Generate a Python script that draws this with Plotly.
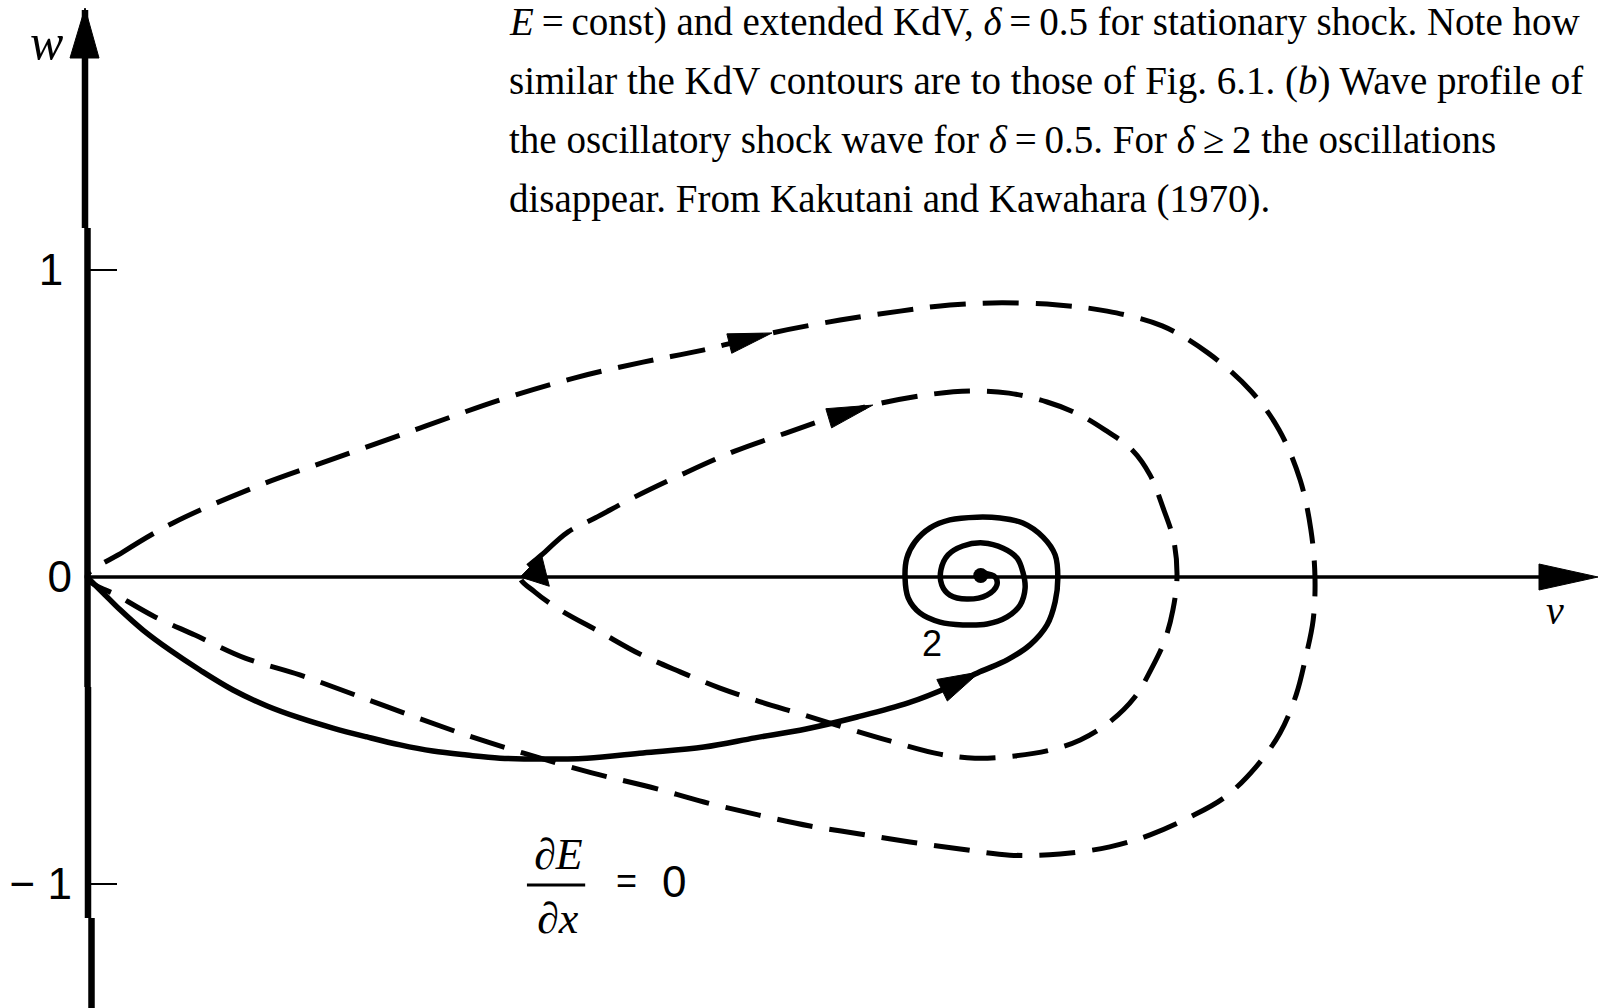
import math
import plotly.graph_objects as go

# ---------------- phase-plane data (v, w) ----------------
# Outer KdV contour (E = const), leaving and re-entering the saddle at the origin
outer_v = [0.000, 0.080, 0.192, 0.375, 0.556, 0.743, 0.922, 1.087, 1.241, 1.375,
           1.529, 1.681, 1.815, 1.926, 2.042, 2.167, 2.277, 2.400, 2.502, 2.598,
           2.661, 2.708, 2.732, 2.741, 2.737, 2.721, 2.699, 2.663, 2.609, 2.540,
           2.462, 2.373, 2.283, 2.172, 2.060, 1.949, 1.837, 1.725, 1.614, 1.498,
           1.377, 1.257, 1.127, 0.973, 0.859, 0.732, 0.598, 0.475, 0.353, 0.241,
           0.152, 0.074, 0.000]
outer_w = [0.000, 0.081, 0.176, 0.293, 0.388, 0.485, 0.577, 0.648, 0.700, 0.739,
           0.795, 0.837, 0.866, 0.886, 0.893, 0.886, 0.866, 0.818, 0.730, 0.606,
           0.479, 0.316, 0.153, 0.000, -0.140, -0.257, -0.384, -0.508, -0.619, -0.717,
           -0.782, -0.840, -0.879, -0.902, -0.906, -0.886, -0.863, -0.837, -0.811, -0.775,
           -0.733, -0.684, -0.638, -0.573, -0.521, -0.456, -0.384, -0.319, -0.264, -0.189,
           -0.130, -0.065, 0.000]

# Inner KdV contour, closing on itself at v ~ 1
inner_v = [0.967, 1.022, 1.074, 1.134, 1.223, 1.335, 1.446, 1.560, 1.658, 1.754,
           1.873, 1.971, 2.058, 2.143, 2.212, 2.272, 2.333, 2.373, 2.402, 2.426,
           2.433, 2.424, 2.406, 2.377, 2.339, 2.283, 2.217, 2.150, 2.071, 1.982,
           1.904, 1.792, 1.708, 1.592, 1.498, 1.413, 1.324, 1.234, 1.145, 1.056,
           1.000, 0.967]
inner_w = [0.000, 0.081, 0.147, 0.192, 0.261, 0.339, 0.410, 0.469, 0.518, 0.560,
           0.593, 0.606, 0.599, 0.570, 0.531, 0.479, 0.414, 0.332, 0.225, 0.117,
           0.000, -0.107, -0.205, -0.296, -0.391, -0.472, -0.531, -0.564, -0.583, -0.590,
           -0.577, -0.534, -0.498, -0.446, -0.404, -0.362, -0.309, -0.251, -0.179, -0.107,
           -0.049, 0.000]

# Extended KdV trajectory (delta = 0.5): from the saddle into the spiral focus
traj_v = [0.000, 0.036, 0.074, 0.125, 0.185, 0.252, 0.326, 0.402, 0.475, 0.549,
          0.625, 0.699, 0.772, 0.848, 0.922, 1.018, 1.116, 1.241, 1.377, 1.491,
          1.605, 1.719, 1.833, 1.924, 1.993, 2.054, 2.105, 2.143, 2.161, 2.167,
          2.161, 2.134, 2.089, 2.038, 1.987, 1.926, 1.882, 1.848, 1.830, 1.826,
          1.833, 1.859, 1.904, 1.955, 2.009, 2.054, 2.083, 2.094, 2.089, 2.076,
          2.045, 2.000, 1.955, 1.922, 1.906, 1.908, 1.926, 1.964, 2.009, 2.031,
          2.027, 2.000]
traj_w = [0.000, -0.052, -0.107, -0.173, -0.238, -0.303, -0.368, -0.420, -0.459, -0.492,
          -0.521, -0.547, -0.567, -0.580, -0.590, -0.593, -0.590, -0.573, -0.554, -0.524,
          -0.495, -0.456, -0.410, -0.358, -0.309, -0.270, -0.221, -0.156, -0.081, -0.003,
          0.072, 0.130, 0.176, 0.192, 0.195, 0.186, 0.160, 0.114, 0.062, -0.003,
          -0.068, -0.117, -0.147, -0.156, -0.153, -0.130, -0.091, -0.036, 0.016, 0.062,
          0.094, 0.111, 0.101, 0.072, 0.023, -0.026, -0.059, -0.072, -0.059, -0.026,
          0.000, 0.013]

focus_v = [1.995]
focus_w = [0.005]

# points along each curve carrying a direction arrow
outer_arrow_at = 10
inner_arrow_at = 9
traj_arrow_at = 24

w_tick_vals = [-1, 0, 1]
w_tick_text = ["\u2212 1", "0", "1\u2009"]

caption_lines = [
    "<i>E</i>\u2009=\u2009const) and extended KdV, <i>\u03b4</i>\u2009=\u20090.5 for stationary shock. Note how",
    "similar the KdV contours are to those of Fig. 6.1. (<i>b</i>) Wave profile of",
    "the oscillatory shock wave for <i>\u03b4</i>\u2009=\u20090.5. For <i>\u03b4</i>\u2009\u2265\u20092 the oscillations",
    "disappear. From Kakutani and Kawahara (1970).",
]

# ---------------- geometry ----------------
W_PX, H_PX = 1598, 1008
X0, Y0 = 87, 577          # pixel position of the origin
SV, SW = 448.0, 307.0     # pixels per unit of v and w

x_range = [-X0 / SV, (W_PX - X0) / SV]
y_range = [(Y0 - H_PX) / SW, Y0 / SW]


def px(x):
    return x / W_PX


def py(y):
    return 1 - y / H_PX


def arrow_head(v_tail, w_tail, v_tip, w_tip, length, half):
    """Filled arrow head (in data units) with its tip on (v_tip, w_tip),
    pointing away from (v_tail, w_tail); length/half width in pixels."""
    dx = (v_tip - v_tail) * SV
    dy = (w_tip - w_tail) * SW
    n = math.hypot(dx, dy)
    ux, uy = dx / n, dy / n
    bx, by = -ux * length, -uy * length
    pxs = [0.0, bx - uy * half, bx + uy * half, 0.0]
    pys = [0.0, by + ux * half, by - ux * half, 0.0]
    return ([v_tip + a / SV for a in pxs], [w_tip + b / SW for b in pys])


fig = go.Figure()

dash = "36px,17px"

fig.add_trace(go.Scatter(
    x=outer_v, y=outer_w, mode="lines",
    line=dict(color="black", width=5, dash=dash, shape="spline", smoothing=1.0),
    hoverinfo="skip", showlegend=False))

fig.add_trace(go.Scatter(
    x=inner_v, y=inner_w, mode="lines",
    line=dict(color="black", width=5, dash=dash, shape="spline", smoothing=1.0),
    hoverinfo="skip", showlegend=False))

fig.add_trace(go.Scatter(
    x=traj_v, y=traj_w, mode="lines",
    line=dict(color="black", width=5.5, shape="spline", smoothing=1.0),
    hoverinfo="skip", showlegend=False))

fig.add_trace(go.Scatter(
    x=focus_v, y=focus_w, mode="markers",
    marker=dict(symbol="circle", color="black", size=15),
    hoverinfo="skip", showlegend=False))

# direction arrows, oriented along the curves
heads = [
    arrow_head(outer_v[outer_arrow_at - 1], outer_w[outer_arrow_at - 1],
               outer_v[outer_arrow_at], outer_w[outer_arrow_at], 44, 10),
    arrow_head(inner_v[inner_arrow_at - 1], inner_w[inner_arrow_at - 1],
               inner_v[inner_arrow_at], inner_w[inner_arrow_at], 46, 10),
    arrow_head(traj_v[traj_arrow_at - 1], traj_w[traj_arrow_at - 1],
               traj_v[traj_arrow_at], traj_w[traj_arrow_at], 42, 12),
    # where the inner contour closes, the flow arrives from the right
    arrow_head((inner_v[1] + inner_v[-2]) / 2, (inner_w[1] + inner_w[-2]) / 2,
               inner_v[0], inner_w[0], 26, 16),
]
for hv, hw in heads:
    fig.add_trace(go.Scatter(
        x=hv, y=hw, mode="lines", fill="toself", fillcolor="black",
        line=dict(color="black", width=1),
        hoverinfo="skip", showlegend=False))

shapes = []
# vertical (w) axis, drawn in slightly offset pieces
for xc, ya, yb in [(85, 10, 228), (87.5, 228, 687), (88, 687, 918), (91.5, 918, 1008)]:
    shapes.append(dict(type="line", xref="paper", yref="paper",
                       x0=px(xc), x1=px(xc), y0=py(ya), y1=py(yb),
                       line=dict(color="black", width=6.5)))
# arrow head at the top of the w axis
shapes.append(dict(type="path", xref="paper", yref="paper",
                   path=f"M{px(85)},{py(8)} L{px(70)},{py(58)} L{px(99)},{py(58)} Z",
                   fillcolor="black", line=dict(color="black", width=1)))
# horizontal (v) axis and its arrow head
shapes.append(dict(type="line", xref="paper", yref="paper",
                   x0=px(87), x1=px(1545), y0=py(577), y1=py(577),
                   line=dict(color="black", width=3.5)))
shapes.append(dict(type="path", xref="paper", yref="paper",
                   path=f"M{px(1598)},{py(577)} L{px(1539)},{py(564)} L{px(1539)},{py(590)} Z",
                   fillcolor="black", line=dict(color="black", width=1)))
# fraction bar of dE/dx
shapes.append(dict(type="line", xref="x", yref="y",
                   x0=0.982, x1=1.112, y0=-1.003, y1=-1.003,
                   line=dict(color="black", width=3)))

serif = "Liberation Serif, Times New Roman, serif"
sans = "Liberation Sans, Arial, sans-serif"

annotations = []
for i, line in enumerate(caption_lines):
    annotations.append(dict(
        text=line, xref="paper", yref="paper", x=px(507), y=py(22 + 59 * i),
        xanchor="left", yanchor="middle", showarrow=False,
        font=dict(family=serif, size=39, color="black")))

annotations += [
    dict(text="<i>w</i>", xref="paper", yref="paper", x=px(28), y=py(12),
         showarrow=False, font=dict(family=serif, size=50, color="black")),
    dict(text="<i>v</i>", xref="paper", yref="paper", x=px(1566), y=py(610),
         showarrow=False, font=dict(family=serif, size=40, color="black")),
    dict(text="2", xref="x", yref="y", x=1.886, y=-0.215,
         showarrow=False, font=dict(family=sans, size=36, color="black")),
    dict(text="\u2202<i>E</i>", xref="x", yref="y", x=1.052, y=-0.905,
         showarrow=False, font=dict(family=serif, size=44, color="black")),
    dict(text="\u2202<i>x</i>", xref="x", yref="y", x=1.052, y=-1.111,
         showarrow=False, font=dict(family=serif, size=44, color="black")),
    dict(text="=", xref="x", yref="y", x=1.205, y=-0.99,
         showarrow=False, font=dict(family=sans, size=36, color="black")),
    dict(text="0", xref="x", yref="y", x=1.310, y=-0.993,
         showarrow=False, font=dict(family=sans, size=44, color="black")),
]

fig.update_layout(
    width=W_PX, height=H_PX,
    margin=dict(l=0, r=0, t=0, b=0, pad=0),
    paper_bgcolor="white", plot_bgcolor="white",
    showlegend=False,
    shapes=shapes,
    annotations=annotations,
    xaxis=dict(range=x_range, visible=False, fixedrange=True),
    yaxis=dict(range=y_range, anchor="free", position=px(X0), side="left",
               showline=False, showgrid=False, zeroline=False,
               ticks="inside", ticklen=29, tickwidth=2.5, tickcolor="black",
               tickvals=w_tick_vals, ticktext=w_tick_text,
               ticklabelstandoff=15,
               tickfont=dict(family=sans, size=44, color="black"),
               fixedrange=True),
)

fig.write_html("out.html", config={"displayModeBar": False, "staticPlot": True})
